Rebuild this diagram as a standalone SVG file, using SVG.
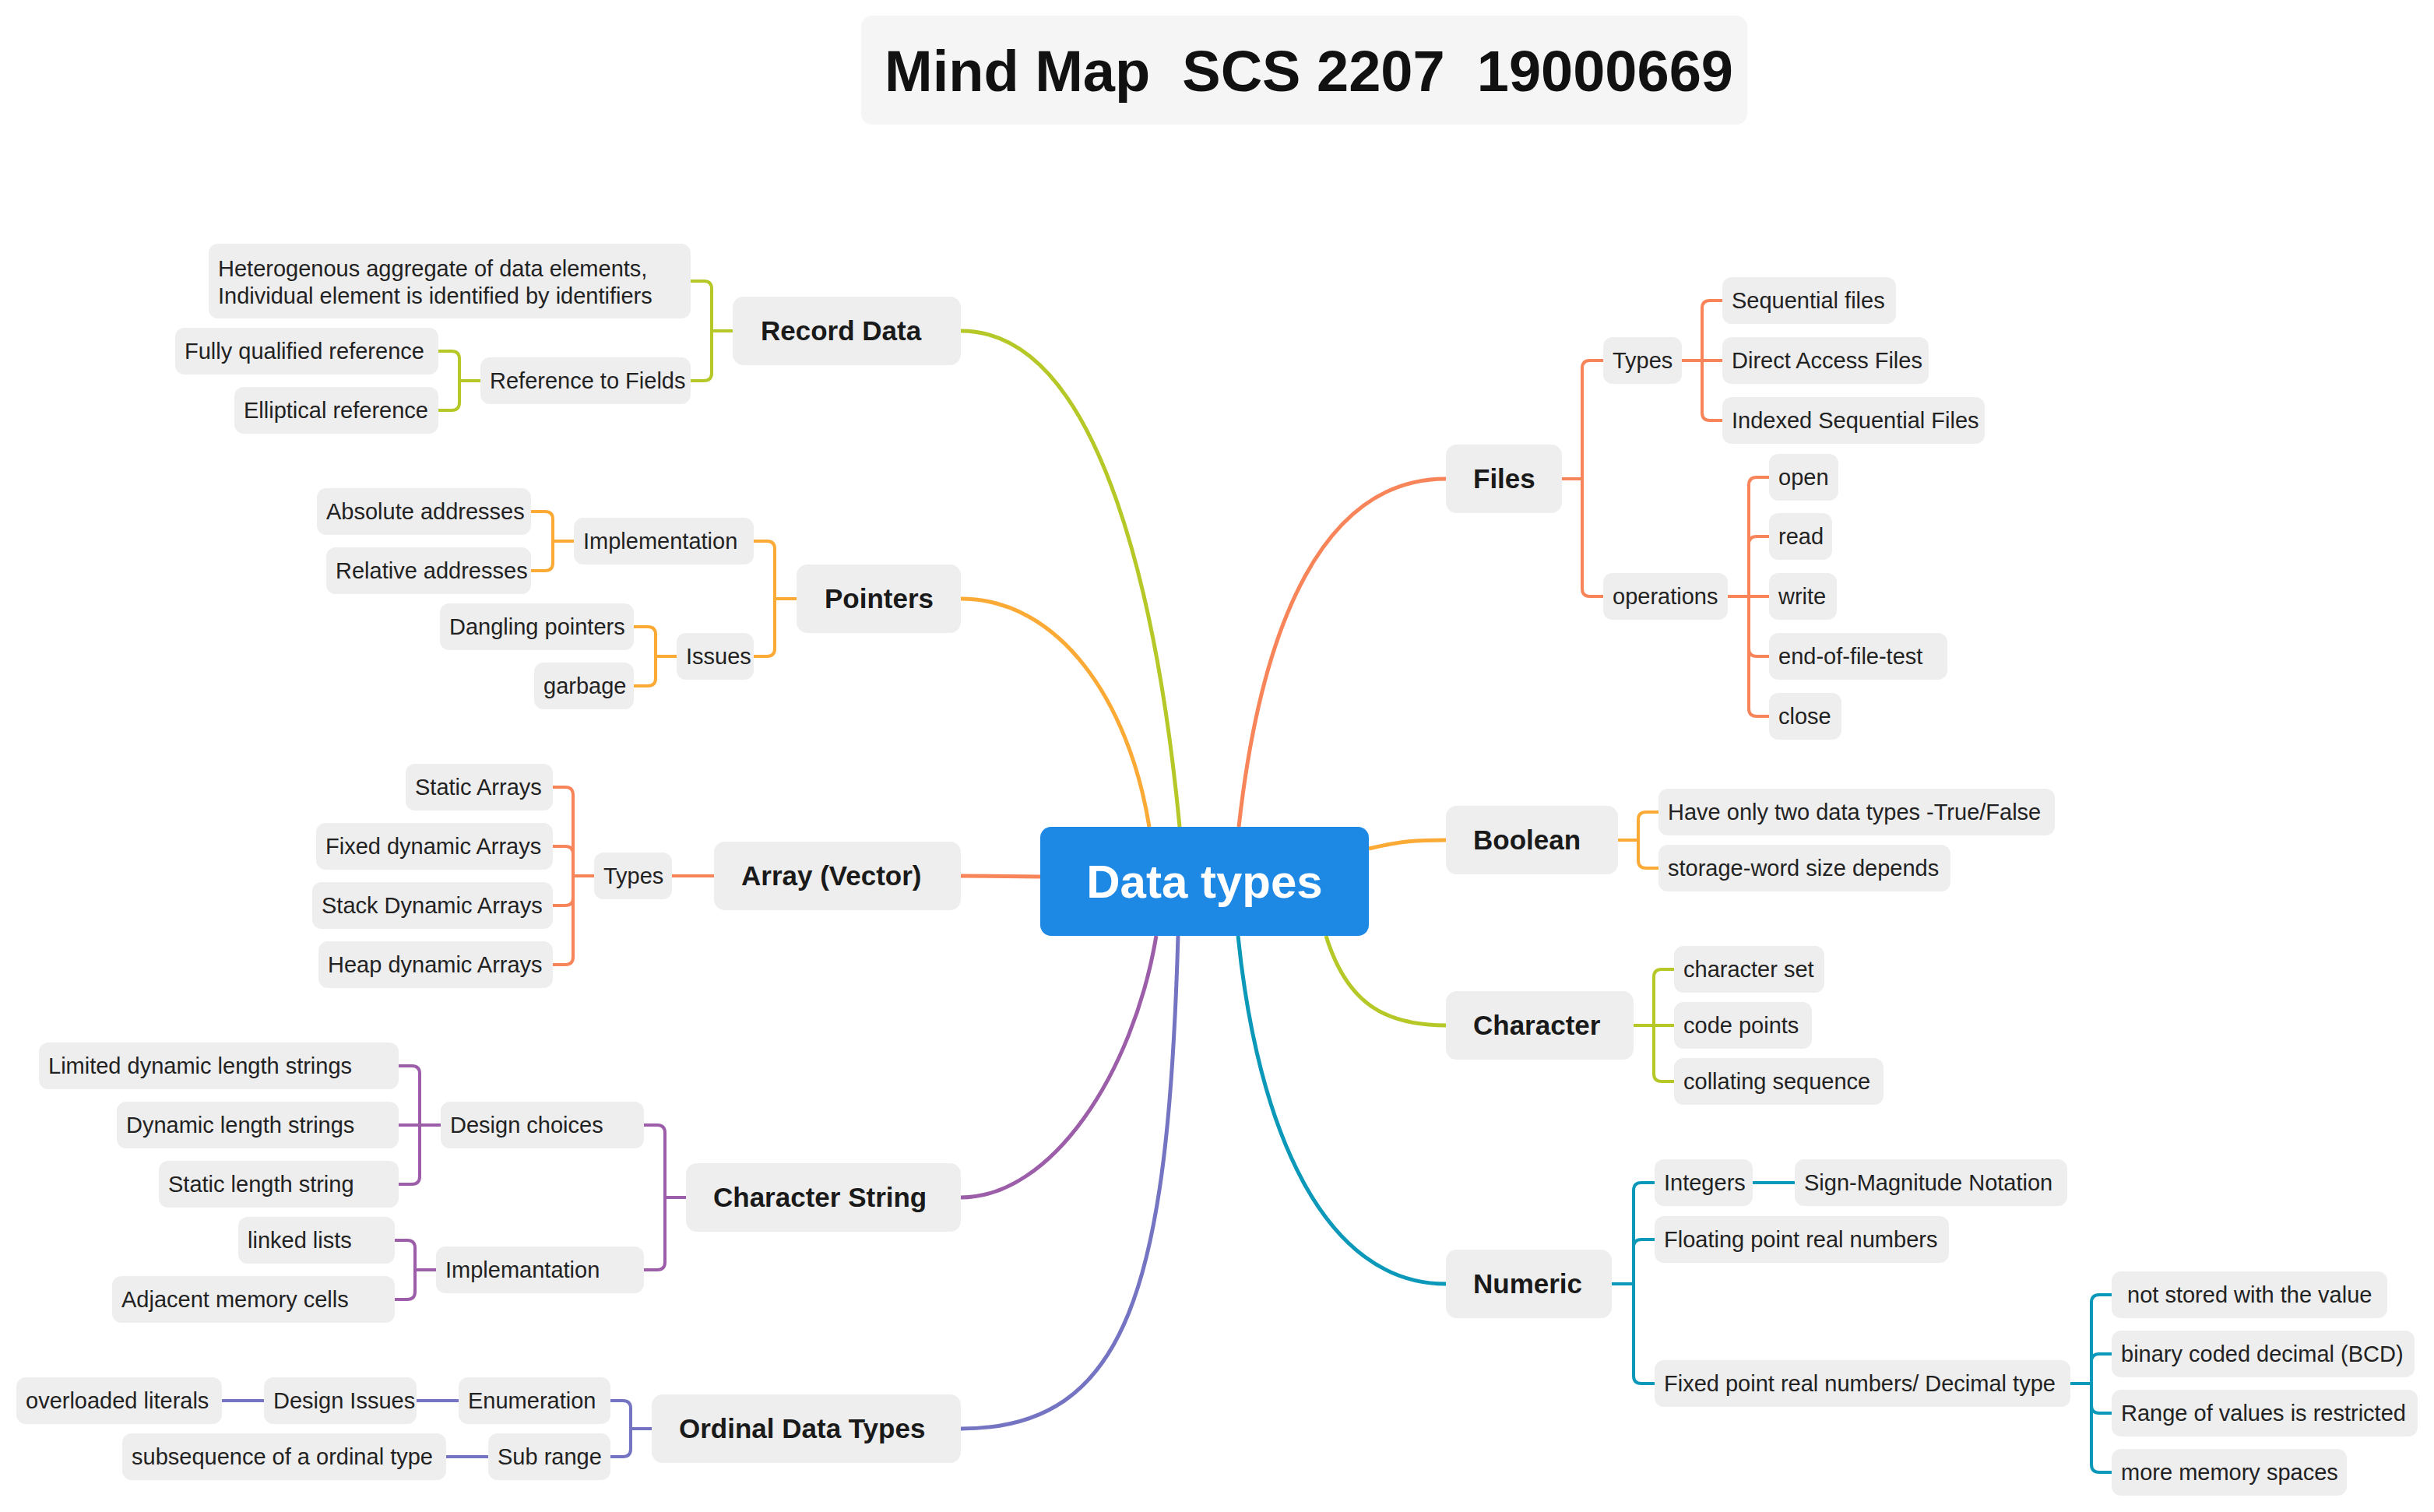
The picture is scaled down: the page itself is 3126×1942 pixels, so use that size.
<svg xmlns="http://www.w3.org/2000/svg" width="3126" height="1942" viewBox="0 0 3126 1942">
<style>
.bg{fill:#ffffff}
.n rect{fill:#eeeeee}
.t{font-family:"Liberation Sans",Arial,sans-serif;font-size:29px;fill:#222222}
.m{font-family:"Liberation Sans",Arial,sans-serif;font-size:35px;font-weight:bold;fill:#1a1a1a}
.cl path{fill:none;stroke-width:4}
.main path{fill:none;stroke-width:5}
.lime{stroke:#b5c828}
.orange{stroke:#fcaa36}
.coral{stroke:#f88459}
.purple{stroke:#9c5ea9}
.indigo{stroke:#7474c2}
.teal{stroke:#0b98b9}
</style>
<rect class="bg" x="0" y="0" width="3126" height="1942"/>

<g id="title">
<rect x="1106" y="20" width="1138" height="140" rx="14" fill="#f5f5f5"/>
<text x="1681" y="117" text-anchor="middle" xml:space="preserve" style="font-family:'Liberation Sans',Arial,sans-serif;font-size:74px;font-weight:bold;fill:#111111">Mind Map  SCS 2207  19000669</text>
</g>

<g id="connectors">
<g class="main">
<path class="lime" d="M1515,1062 C1490,800 1420,425 1234,425"/>
<path class="orange" d="M1476,1062 C1450,900 1360,769 1234,769"/>
<path class="coral" d="M1336,1126 L1234,1125"/>
<path class="purple" d="M1485,1202 C1455,1380 1350,1538 1234,1538"/>
<path class="indigo" d="M1513,1202 C1500,1650 1450,1835 1234,1835"/>
<path class="coral" d="M1591,1062 C1620,800 1700,615 1857,615"/>
<path class="orange" d="M1758,1090 C1800,1080 1820,1079 1857,1079"/>
<path class="lime" d="M1703,1202 C1730,1290 1780,1317 1857,1317"/>
<path class="teal" d="M1590,1202 C1615,1450 1700,1649 1857,1649"/>
</g>
<g class="cl">
<path class="lime" d="M941,425 H914 V371 Q914,361 904,361 H887"/>
<path class="lime" d="M941,425 H914 V479 Q914,489 904,489 H887"/>
<path class="lime" d="M617,489 H590 V461 Q590,451 580,451 H563"/>
<path class="lime" d="M617,489 H590 V517 Q590,527 580,527 H563"/>
<path class="orange" d="M1023,769 H995 V705 Q995,695 985,695 H968"/>
<path class="orange" d="M1023,769 H995 V833 Q995,843 985,843 H968"/>
<path class="orange" d="M737,695 H710 V667 Q710,657 700,657 H682"/>
<path class="orange" d="M737,695 H710 V723 Q710,733 700,733 H682"/>
<path class="orange" d="M869,843 H842 V815 Q842,805 832,805 H814"/>
<path class="orange" d="M869,843 H842 V871 Q842,881 832,881 H814"/>
<path class="coral" d="M917,1125 H863"/>
<path class="coral" d="M763,1125 H736 V1021 Q736,1011 726,1011 H710"/>
<path class="coral" d="M763,1125 H736 V1097 Q736,1087 726,1087 H710"/>
<path class="coral" d="M763,1125 H736 V1153 Q736,1163 726,1163 H710"/>
<path class="coral" d="M763,1125 H736 V1229 Q736,1239 726,1239 H710"/>
<path class="purple" d="M881,1538 H854 V1455 Q854,1445 844,1445 H827"/>
<path class="purple" d="M881,1538 H854 V1621 Q854,1631 844,1631 H827"/>
<path class="purple" d="M566,1445 H539 V1379 Q539,1369 529,1369 H512"/>
<path class="purple" d="M566,1445 H512"/>
<path class="purple" d="M566,1445 H539 V1511 Q539,1521 529,1521 H512"/>
<path class="purple" d="M560,1631 H533 V1603 Q533,1593 523,1593 H507"/>
<path class="purple" d="M560,1631 H533 V1659 Q533,1669 523,1669 H507"/>
<path class="indigo" d="M837,1835 H810 V1809 Q810,1799 800,1799 H784"/>
<path class="indigo" d="M837,1835 H810 V1861 Q810,1871 800,1871 H784"/>
<path class="indigo" d="M589,1799 H535"/>
<path class="indigo" d="M339,1799 H285"/>
<path class="indigo" d="M627,1871 H573"/>
<path class="coral" d="M2006,615 H2032 V473 Q2032,463 2042,463 H2059"/>
<path class="coral" d="M2006,615 H2032 V756 Q2032,766 2042,766 H2059"/>
<path class="coral" d="M2160,463 H2186 V396 Q2186,386 2196,386 H2212"/>
<path class="coral" d="M2160,463 H2212"/>
<path class="coral" d="M2160,463 H2186 V530 Q2186,540 2196,540 H2212"/>
<path class="coral" d="M2219,766 H2246 V623 Q2246,613 2256,613 H2272"/>
<path class="coral" d="M2219,766 H2246 V699 Q2246,689 2256,689 H2272"/>
<path class="coral" d="M2219,766 H2272"/>
<path class="coral" d="M2219,766 H2246 V833 Q2246,843 2256,843 H2272"/>
<path class="coral" d="M2219,766 H2246 V910 Q2246,920 2256,920 H2272"/>
<path class="orange" d="M2078,1079 H2104 V1053 Q2104,1043 2114,1043 H2130"/>
<path class="orange" d="M2078,1079 H2104 V1105 Q2104,1115 2114,1115 H2130"/>
<path class="lime" d="M2098,1317 H2124 V1255 Q2124,1245 2134,1245 H2150"/>
<path class="lime" d="M2098,1317 H2150"/>
<path class="lime" d="M2098,1317 H2124 V1379 Q2124,1389 2134,1389 H2150"/>
<path class="teal" d="M2070,1649 H2098 V1529 Q2098,1519 2108,1519 H2125"/>
<path class="teal" d="M2070,1649 H2098 V1602 Q2098,1592 2108,1592 H2125"/>
<path class="teal" d="M2070,1649 H2098 V1767 Q2098,1777 2108,1777 H2125"/>
<path class="teal" d="M2251,1519 H2305"/>
<path class="teal" d="M2659,1777 H2686 V1673 Q2686,1663 2696,1663 H2712"/>
<path class="teal" d="M2659,1777 H2686 V1749 Q2686,1739 2696,1739 H2712"/>
<path class="teal" d="M2659,1777 H2686 V1805 Q2686,1815 2696,1815 H2712"/>
<path class="teal" d="M2659,1777 H2686 V1881 Q2686,1891 2696,1891 H2712"/>
</g>
</g>

<g id="center">
<rect x="1336" y="1062" width="422" height="140" rx="14" fill="#1e88e5"/>
<text x="1547" y="1153" text-anchor="middle" style="font-family:'Liberation Sans',Arial,sans-serif;font-size:60px;font-weight:bold;fill:#ffffff">Data types</text>
</g>

<g id="record-data" class="n"><rect x="941" y="381" width="293" height="88" rx="14"/><text class="m" x="977" y="437">Record Data</text></g>
<g id="pointers" class="n"><rect x="1023" y="725" width="211" height="88" rx="14"/><text class="m" x="1059" y="781">Pointers</text></g>
<g id="array" class="n"><rect x="917" y="1081" width="317" height="88" rx="14"/><text class="m" x="952" y="1137">Array (Vector)</text></g>
<g id="character-string" class="n"><rect x="881" y="1494" width="353" height="88" rx="14"/><text class="m" x="916" y="1550">Character String</text></g>
<g id="ordinal" class="n"><rect x="837" y="1791" width="397" height="88" rx="14"/><text class="m" x="872" y="1847">Ordinal Data Types</text></g>
<g id="files" class="n"><rect x="1857" y="571" width="149" height="88" rx="14"/><text class="m" x="1892" y="627">Files</text></g>
<g id="boolean" class="n"><rect x="1857" y="1035" width="221" height="88" rx="14"/><text class="m" x="1892" y="1091">Boolean</text></g>
<g id="character" class="n"><rect x="1857" y="1273" width="241" height="88" rx="14"/><text class="m" x="1892" y="1329">Character</text></g>
<g id="numeric" class="n"><rect x="1857" y="1605" width="213" height="88" rx="14"/><text class="m" x="1892" y="1661">Numeric</text></g>

<g id="hetero" class="n"><rect x="268" y="313" width="619" height="96" rx="12"/><text class="t" x="280" y="355">Heterogenous aggregate of data elements,</text><text class="t" x="280" y="390">Individual element is identified by identifiers</text></g>
<g id="ref-fields" class="n"><rect x="617" y="459" width="270" height="60" rx="12"/><text class="t" x="629" y="499">Reference to Fields</text></g>
<g id="fully-qualified" class="n"><rect x="225" y="421" width="338" height="60" rx="12"/><text class="t" x="237" y="461">Fully qualified reference</text></g>
<g id="elliptical" class="n"><rect x="301" y="497" width="262" height="60" rx="12"/><text class="t" x="313" y="537">Elliptical reference</text></g>

<g id="ptr-impl" class="n"><rect x="737" y="665" width="231" height="60" rx="12"/><text class="t" x="749" y="705">Implementation</text></g>
<g id="absolute" class="n"><rect x="407" y="627" width="275" height="60" rx="12"/><text class="t" x="419" y="667">Absolute addresses</text></g>
<g id="relative" class="n"><rect x="419" y="703" width="263" height="60" rx="12"/><text class="t" x="431" y="743">Relative addresses</text></g>
<g id="issues" class="n"><rect x="869" y="813" width="99" height="60" rx="12"/><text class="t" x="881" y="853">Issues</text></g>
<g id="dangling" class="n"><rect x="565" y="775" width="249" height="60" rx="12"/><text class="t" x="577" y="815">Dangling pointers</text></g>
<g id="garbage" class="n"><rect x="686" y="851" width="128" height="60" rx="12"/><text class="t" x="698" y="891">garbage</text></g>

<g id="arr-types" class="n"><rect x="763" y="1095" width="100" height="60" rx="12"/><text class="t" x="775" y="1135">Types</text></g>
<g id="static-arrays" class="n"><rect x="521" y="981" width="189" height="60" rx="12"/><text class="t" x="533" y="1021">Static Arrays</text></g>
<g id="fixed-dyn" class="n"><rect x="406" y="1057" width="304" height="60" rx="12"/><text class="t" x="418" y="1097">Fixed dynamic Arrays</text></g>
<g id="stack-dyn" class="n"><rect x="401" y="1133" width="309" height="60" rx="12"/><text class="t" x="413" y="1173">Stack Dynamic Arrays</text></g>
<g id="heap-dyn" class="n"><rect x="409" y="1209" width="301" height="60" rx="12"/><text class="t" x="421" y="1249">Heap dynamic Arrays</text></g>

<g id="design-choices" class="n"><rect x="566" y="1415" width="261" height="60" rx="12"/><text class="t" x="578" y="1455">Design choices</text></g>
<g id="limited" class="n"><rect x="50" y="1339" width="462" height="60" rx="12"/><text class="t" x="62" y="1379">Limited dynamic length strings</text></g>
<g id="dynamic-len" class="n"><rect x="150" y="1415" width="362" height="60" rx="12"/><text class="t" x="162" y="1455">Dynamic length strings</text></g>
<g id="static-len" class="n"><rect x="204" y="1491" width="308" height="60" rx="12"/><text class="t" x="216" y="1531">Static length string</text></g>
<g id="implemantation" class="n"><rect x="560" y="1601" width="267" height="60" rx="12"/><text class="t" x="572" y="1641">Implemantation</text></g>
<g id="linked" class="n"><rect x="306" y="1563" width="201" height="60" rx="12"/><text class="t" x="318" y="1603">linked lists</text></g>
<g id="adjacent" class="n"><rect x="144" y="1639" width="363" height="60" rx="12"/><text class="t" x="156" y="1679">Adjacent memory cells</text></g>

<g id="enumeration" class="n"><rect x="589" y="1769" width="195" height="60" rx="12"/><text class="t" x="601" y="1809">Enumeration</text></g>
<g id="design-issues" class="n"><rect x="339" y="1769" width="196" height="60" rx="12"/><text class="t" x="351" y="1809">Design Issues</text></g>
<g id="overloaded" class="n"><rect x="21" y="1769" width="264" height="60" rx="12"/><text class="t" x="33" y="1809">overloaded literals</text></g>
<g id="subrange" class="n"><rect x="627" y="1841" width="157" height="60" rx="12"/><text class="t" x="639" y="1881">Sub range</text></g>
<g id="subsequence" class="n"><rect x="157" y="1841" width="416" height="60" rx="12"/><text class="t" x="169" y="1881">subsequence of a ordinal type</text></g>

<g id="file-types" class="n"><rect x="2059" y="433" width="101" height="60" rx="12"/><text class="t" x="2071" y="473">Types</text></g>
<g id="sequential" class="n"><rect x="2212" y="356" width="223" height="60" rx="12"/><text class="t" x="2224" y="396">Sequential files</text></g>
<g id="direct" class="n"><rect x="2212" y="433" width="265" height="60" rx="12"/><text class="t" x="2224" y="473">Direct Access Files</text></g>
<g id="indexed" class="n"><rect x="2212" y="510" width="337" height="60" rx="12"/><text class="t" x="2224" y="550">Indexed Sequential Files</text></g>
<g id="operations" class="n"><rect x="2059" y="736" width="160" height="60" rx="12"/><text class="t" x="2071" y="776">operations</text></g>
<g id="open" class="n"><rect x="2272" y="583" width="89" height="60" rx="12"/><text class="t" x="2284" y="623">open</text></g>
<g id="read" class="n"><rect x="2272" y="659" width="81" height="60" rx="12"/><text class="t" x="2284" y="699">read</text></g>
<g id="write" class="n"><rect x="2272" y="736" width="87" height="60" rx="12"/><text class="t" x="2284" y="776">write</text></g>
<g id="eof" class="n"><rect x="2272" y="813" width="229" height="60" rx="12"/><text class="t" x="2284" y="853">end-of-file-test</text></g>
<g id="close" class="n"><rect x="2272" y="890" width="93" height="60" rx="12"/><text class="t" x="2284" y="930">close</text></g>

<g id="two-types" class="n"><rect x="2130" y="1013" width="509" height="60" rx="12"/><text class="t" x="2142" y="1053">Have only two data types -True/False</text></g>
<g id="storage" class="n"><rect x="2130" y="1085" width="375" height="60" rx="12"/><text class="t" x="2142" y="1125">storage-word size depends</text></g>

<g id="charset" class="n"><rect x="2150" y="1215" width="193" height="60" rx="12"/><text class="t" x="2162" y="1255">character set</text></g>
<g id="codepoints" class="n"><rect x="2150" y="1287" width="177" height="60" rx="12"/><text class="t" x="2162" y="1327">code points</text></g>
<g id="collating" class="n"><rect x="2150" y="1359" width="269" height="60" rx="12"/><text class="t" x="2162" y="1399">collating sequence</text></g>

<g id="integers" class="n"><rect x="2125" y="1489" width="126" height="60" rx="12"/><text class="t" x="2137" y="1529">Integers</text></g>
<g id="signmag" class="n"><rect x="2305" y="1489" width="350" height="60" rx="12"/><text class="t" x="2317" y="1529">Sign-Magnitude Notation</text></g>
<g id="floating" class="n"><rect x="2125" y="1562" width="378" height="60" rx="12"/><text class="t" x="2137" y="1602">Floating point real numbers</text></g>
<g id="fixedpoint" class="n"><rect x="2125" y="1747" width="534" height="60" rx="12"/><text class="t" x="2137" y="1787">Fixed point real numbers/ Decimal type</text></g>
<g id="notstored" class="n"><rect x="2712" y="1633" width="354" height="60" rx="12"/><text class="t" x="2724" y="1673" xml:space="preserve"> not stored with the value</text></g>
<g id="bcd" class="n"><rect x="2712" y="1709" width="389" height="60" rx="12"/><text class="t" x="2724" y="1749">binary coded decimal (BCD)</text></g>
<g id="range" class="n"><rect x="2712" y="1785" width="393" height="60" rx="12"/><text class="t" x="2724" y="1825">Range of values is restricted</text></g>
<g id="morememory" class="n"><rect x="2712" y="1861" width="302" height="60" rx="12"/><text class="t" x="2724" y="1901">more memory spaces</text></g>
</svg>
